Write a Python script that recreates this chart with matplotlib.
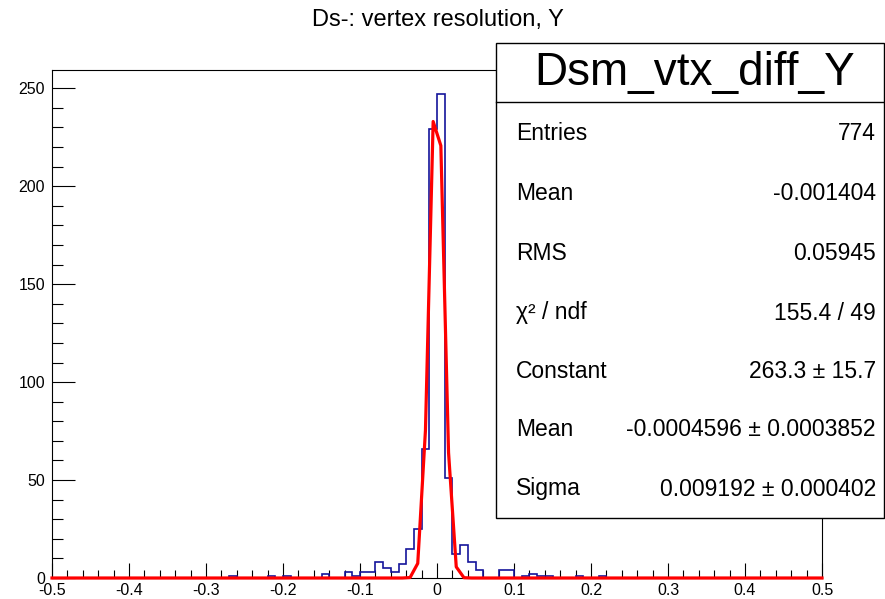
import numpy as np
import matplotlib.pyplot as plt
from matplotlib.patches import Rectangle
from matplotlib.lines import Line2D
from matplotlib.ticker import MultipleLocator, FuncFormatter

plt.rcParams['font.family'] = ['Liberation Sans', 'DejaVu Sans']
plt.rcParams['axes.unicode_minus'] = False

# histogram: 100 bins on [-0.5, 0.5], only the non-empty bins are listed
n_bins = 100
x_lo, x_hi = -0.5, 0.5
filled_low_edges = [-0.27, -0.22, -0.20, -0.15, -0.12, -0.11, -0.10, -0.09,
                    -0.08, -0.07, -0.06, -0.05, -0.04, -0.03, -0.02, -0.01,
                    0.00, 0.01, 0.02, 0.03, 0.04, 0.05, 0.08, 0.09,
                    0.11, 0.12, 0.13, 0.14, 0.18, 0.21]
filled_counts = [1, 1, 1, 2, 3, 1, 3, 3,
                 8, 5, 3, 7, 15, 25, 66, 229,
                 247, 51, 12, 17, 8, 4, 4, 4,
                 1, 2, 1, 1, 1, 1]

# gaus fit result (from the stats box)
fit_constant = 263.3
fit_mean = -0.0004596
fit_sigma = 0.009192

title = 'Ds-: vertex resolution, Y'
stats_title = 'Dsm_vtx_diff_Y'
stats_labels = ['Entries', 'Mean', 'RMS', 'χ² / ndf', 'Constant', 'Mean', 'Sigma']
stats_values = ['774', '-0.001404', '0.05945', '155.4 / 49',
                '263.3 ± 15.7', '-0.0004596 ± 0.0003852', '0.009192 ± 0.000402']

W, H = 885, 599
fig = plt.figure(figsize=(W / 100, H / 100), dpi=100)
ax = fig.add_axes([52 / W, (H - 578) / H, 770 / W, (578 - 70) / H])

edges = np.linspace(x_lo, x_hi, n_bins + 1)
counts = np.zeros(n_bins)
for lo, c in zip(filled_low_edges, filled_counts):
    counts[int(round((lo - x_lo) / (edges[1] - edges[0])))] = c

ax.stairs(counts, edges, color='#14149b', lw=1.2, zorder=2, clip_on=False)

# fit drawn through the bin centres, like ROOT does
centers = 0.5 * (edges[:-1] + edges[1:])
fx = np.concatenate([[x_lo], centers, [x_hi]])
fy = fit_constant * np.exp(-0.5 * ((fx - fit_mean) / fit_sigma) ** 2)
ax.plot(fx, fy, color='#ff0000', lw=2.3, zorder=3, clip_on=False)

ax.set_xlim(x_lo, x_hi)
ax.set_ylim(0, 1.05 * counts.max())

ax.xaxis.set_major_locator(MultipleLocator(0.1))
ax.xaxis.set_minor_locator(MultipleLocator(0.02))
ax.yaxis.set_major_locator(MultipleLocator(50))
ax.yaxis.set_minor_locator(MultipleLocator(10))
ax.xaxis.set_major_formatter(FuncFormatter(lambda v, p: '0' if abs(v) < 1e-9 else f'{v:g}'))
ax.yaxis.set_major_formatter(FuncFormatter(lambda v, p: f'{v:g}'))

ax.tick_params(axis='x', which='major', direction='in', length=11, width=0.8, pad=3.5, labelsize=11.5)
ax.tick_params(axis='x', which='minor', direction='in', length=5.5, width=0.8)
ax.tick_params(axis='y', which='major', direction='in', length=16.5, width=0.8, pad=5, labelsize=11.5)
ax.tick_params(axis='y', which='minor', direction='in', length=8, width=0.8)
for s in ax.spines.values():
    s.set_linewidth(0.8)

fig.text(437.5 / W, 1 - 20 / H, title, ha='center', va='center', fontsize=17)

# stats box on top of the frame
bx0, bx1, by0, by1 = 496, 884, 43, 518
fig.add_artist(Rectangle((bx0 / W, 1 - by1 / H), (bx1 - bx0) / W, (by1 - by0) / H,
                         transform=fig.transFigure, facecolor='white',
                         edgecolor='black', lw=1.0, zorder=5))
fig.add_artist(Line2D([bx0 / W, bx1 / W], [1 - 102 / H, 1 - 102 / H],
                      transform=fig.transFigure, color='black', lw=1.0, zorder=6))
fig.text(695 / W, 1 - 73 / H, stats_title, ha='center', va='center', fontsize=33, zorder=7)

row_y = [133, 194, 253, 313, 371, 430, 489]
for yy, lab, val in zip(row_y, stats_labels, stats_values):
    fig.text(515.7 / W, 1 - yy / H, lab, ha='left', va='center', fontsize=16.5, zorder=7)
    fig.text(876 / W, 1 - yy / H, val, ha='right', va='center', fontsize=16.5, zorder=7)

fig.savefig('out.png', dpi=100)
